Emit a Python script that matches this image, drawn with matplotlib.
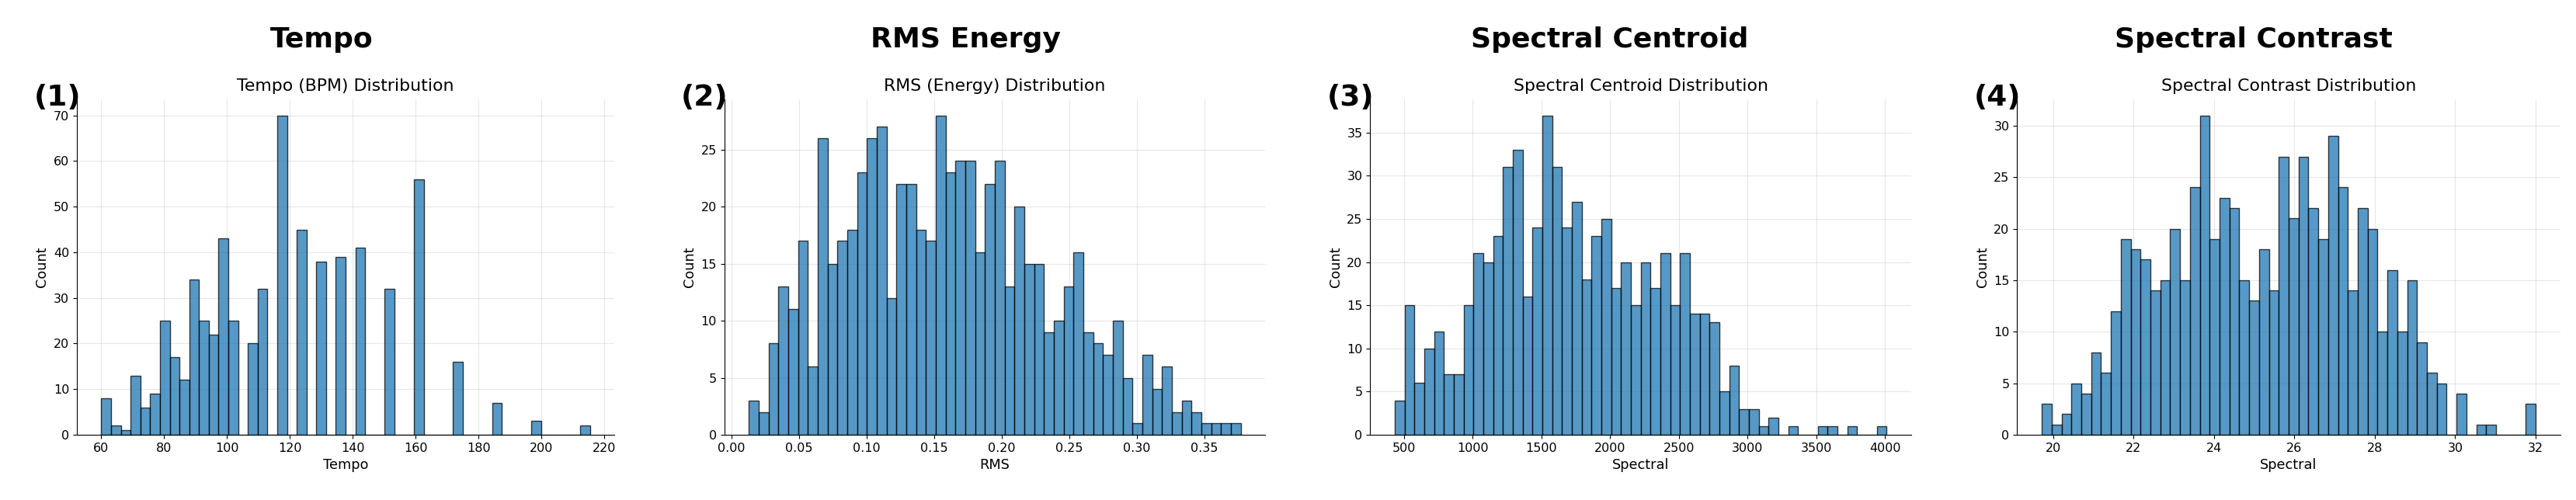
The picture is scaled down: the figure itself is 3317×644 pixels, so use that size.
#!/usr/bin/env python3

import numpy as np
import matplotlib

matplotlib.use("Agg")
import matplotlib.pyplot as plt
from matplotlib.ticker import MultipleLocator

# Histogram counts (50 bins per feature)
tempo_counts = [
    8, 2, 1, 13, 6, 9, 25, 17, 12, 34,
    25, 22, 43, 25, 0, 20, 32, 0, 70, 0,
    45, 0, 38, 0, 39, 0, 41, 0, 0, 32,
    0, 0, 56, 0, 0, 0, 16, 0, 0, 0,
    7, 0, 0, 0, 3, 0, 0, 0, 0, 2,
]
rms_counts = [
    3, 2, 8, 13, 11, 17, 6, 26, 15, 17,
    18, 23, 26, 27, 12, 22, 22, 18, 17, 28,
    23, 24, 24, 16, 22, 24, 13, 20, 15, 15,
    9, 10, 13, 16, 9, 8, 7, 10, 5, 1,
    7, 4, 6, 2, 3, 2, 1, 1, 1, 1,
]
centroid_counts = [
    4, 15, 6, 10, 12, 7, 7, 15, 21, 20,
    23, 31, 33, 16, 24, 37, 31, 24, 27, 18,
    23, 25, 17, 20, 15, 20, 17, 21, 15, 21,
    14, 14, 13, 5, 8, 3, 3, 1, 2, 0,
    1, 0, 0, 1, 1, 0, 1, 0, 0, 1,
]
contrast_counts = [
    3, 1, 2, 5, 4, 8, 6, 12, 19, 18,
    17, 14, 15, 20, 15, 24, 31, 19, 23, 22,
    15, 13, 18, 14, 27, 21, 27, 22, 19, 29,
    24, 14, 22, 20, 10, 16, 10, 15, 9, 6,
    5, 0, 4, 0, 1, 1, 0, 0, 0, 3,
]

# Min / max of each feature (histogram range)
tempo_range = (60.09, 215.33)
rms_range = (0.0130, 0.3770)
centroid_range = (432.3, 4013.0)
contrast_range = (19.711, 32.0)

panel_titles = ["Tempo", "RMS Energy", "Spectral Centroid", "Spectral Contrast"]
sub_titles = [
    "Tempo (BPM) Distribution",
    "RMS (Energy) Distribution",
    "Spectral Centroid Distribution",
    "Spectral Contrast Distribution",
]
x_labels = ["Tempo", "RMS", "Spectral", "Spectral"]
x_steps = [20, 0.05, 500, 2]


def draw_hist(ax, counts, value_range, n_bins=50):
    """Draw a histogram from pre-binned counts."""
    edges = np.linspace(value_range[0], value_range[1], n_bins + 1)
    ax.hist(
        edges[:-1],
        bins=edges,
        weights=counts,
        color="#1f77b4",
        alpha=0.75,
        edgecolor="black",
        linewidth=1.0,
    )


def main():
    fig = plt.figure(figsize=(33.17, 6.44), dpi=100)

    # Axes positions in figure fraction (left, width)
    lefts = [0.02985, 0.28119, 0.53190, 0.78302]
    widths = [0.20862, 0.21001, 0.21004, 0.21085]
    bottom, height = 0.13043, 0.67081

    all_counts = [tempo_counts, rms_counts, centroid_counts, contrast_counts]
    all_ranges = [tempo_range, rms_range, centroid_range, contrast_range]

    for i in range(4):
        ax = fig.add_axes([lefts[i], bottom, widths[i], height])
        draw_hist(ax, all_counts[i], all_ranges[i])

        ax.set_title(sub_titles[i], fontsize=15.8, pad=8)
        ax.set_xlabel(x_labels[i], fontsize=12.8)
        ax.set_ylabel("Count", fontsize=12.8)
        ax.tick_params(labelsize=11.5)
        ax.xaxis.set_major_locator(MultipleLocator(x_steps[i]))
        ax.grid(True, alpha=0.3)
        ax.set_axisbelow(True)
        ax.spines["top"].set_visible(False)
        ax.spines["right"].set_visible(False)

        # Panel label
        ax.text(
            -0.08,
            0.981,
            f"({i + 1})",
            transform=ax.transAxes,
            fontsize=27,
            fontweight="bold",
            ha="left",
            va="baseline",
        )

        # Bold heading centred over each quarter of the figure
        fig.text(
            0.125 + 0.25 * i,
            0.905,
            panel_titles[i],
            fontsize=26,
            fontweight="bold",
            ha="center",
            va="baseline",
        )

    fig.savefig("out.png", dpi=100)


if __name__ == "__main__":
    main()
